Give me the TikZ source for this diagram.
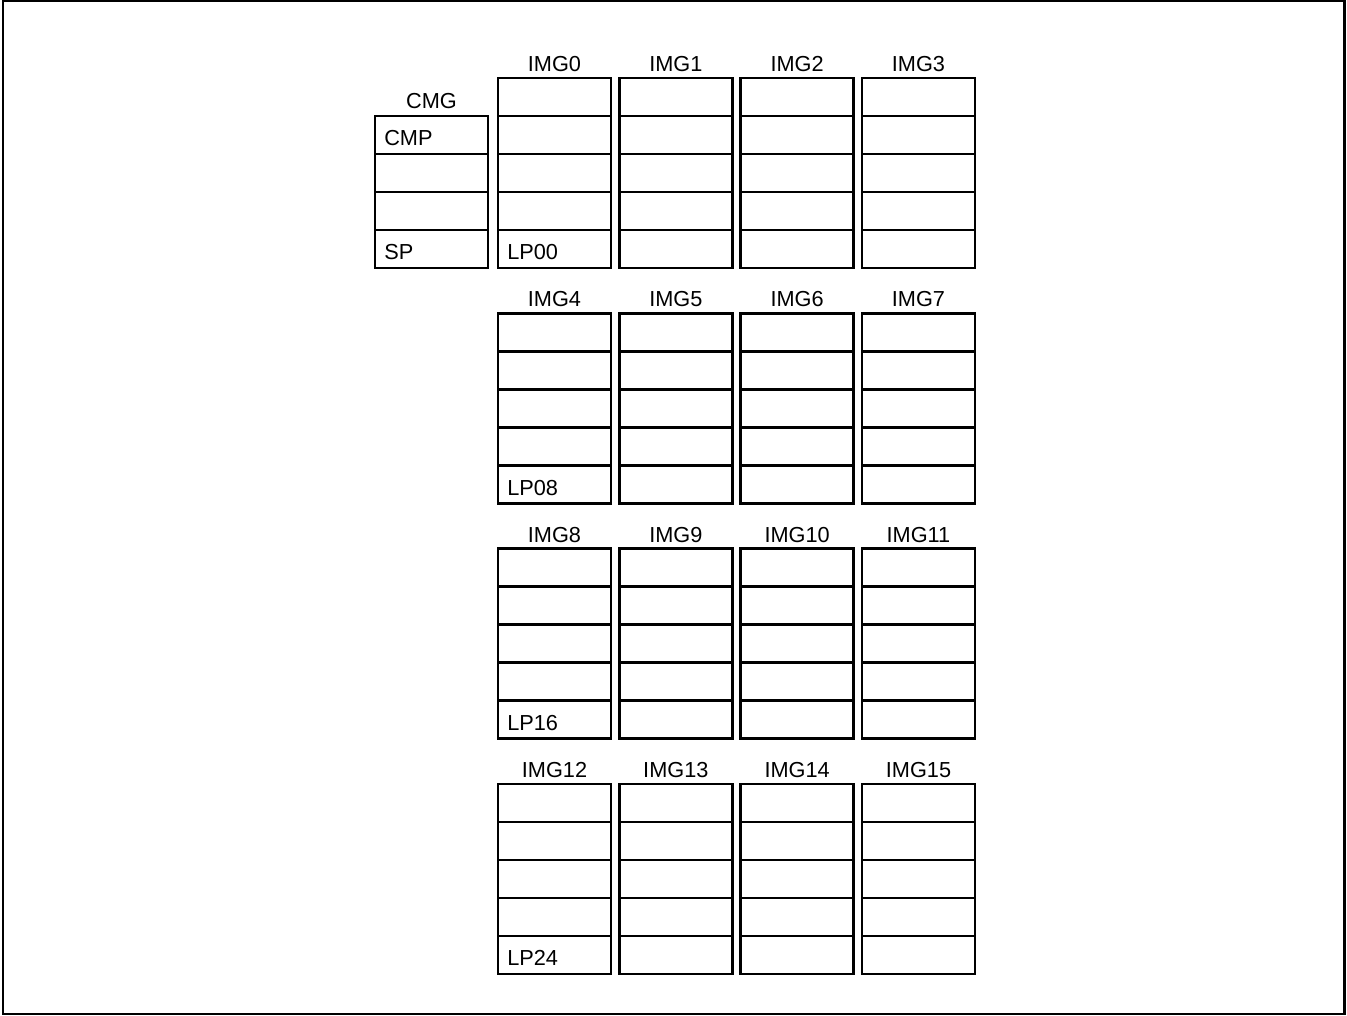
\documentclass[tikz,border=0pt]{standalone}
\usepackage{fontspec}
\setmainfont{Liberation Sans}
\usetikzlibrary{positioning}
\tikzset{cell/.style={draw,line width=1.9pt,minimum width=84.75pt,minimum height=28.5pt,inner sep=0pt,outer sep=0pt},
  tag/.style={font=\fontsize{16.3}{19}\selectfont,anchor=west,inner sep=0pt},
  head/.style={font=\fontsize{16.3}{19}\selectfont,inner sep=0pt}}

\begin{document}
\begin{tikzpicture}[x=0.75pt,y=-0.75pt]
\useasboundingbox (0,0) rectangle (1347,1016);
\draw[line width=1.6pt] (3,1) rectangle (1344.5,1014);
% CMG column
\node[head] (cmg) at (431.5,101) {CMG};
\foreach \r in {0,...,3}{\node[cell] (cmg-\r) at (431.5,135+38*\r) {};}
\node[tag] (cmp) at ([xshift=6.75pt,yshift=-2.5pt]cmg-0.west) {CMP};
\node[tag] (sp) at ([xshift=6.75pt,yshift=-2.5pt]cmg-3.west) {SP};
% IMG groups
\foreach \g in {0,...,3}{
  \foreach \c in {0,...,3}{
    \pgfmathtruncatemacro{\n}{4*\g+\c}
    \node[head] (img\n) at (554.5+121.33*\c,64+235.3*\g) {IMG\n};
    \foreach \r in {0,...,4}{\node[cell] (img\n-\r) at (554.5+121.33*\c,97+235.3*\g+38*\r) {};}
  }
}
\foreach \g/\t in {0/LP00,4/LP08,8/LP16,12/LP24}{\node[tag] (lp\g) at ([xshift=6.75pt,yshift=-2.5pt]img\g-4.west) {\t};}
\end{tikzpicture}
\end{document}
